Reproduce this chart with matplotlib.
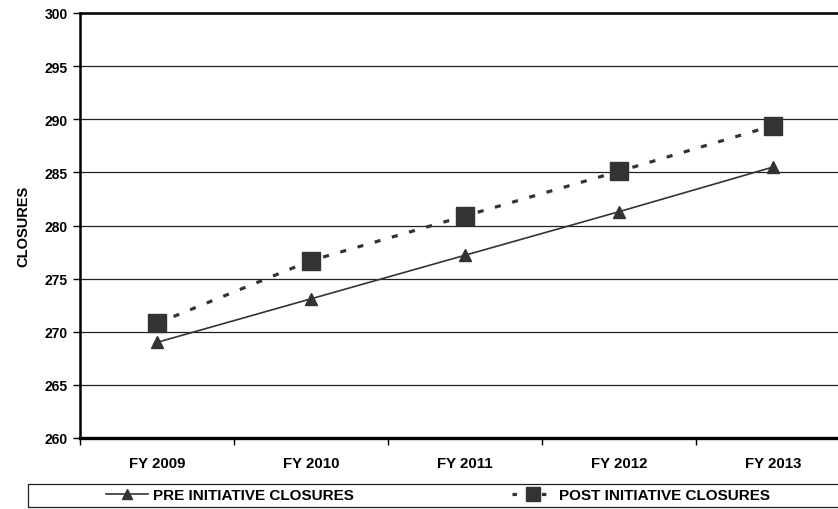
import matplotlib
matplotlib.use("Agg")
import matplotlib.pyplot as plt
from matplotlib.lines import Line2D
from matplotlib.patches import Rectangle

plt.rcParams['font.family'] = ['Liberation Sans', 'DejaVu Sans']
plt.rcParams['font.weight'] = 'bold'

years = ["FY 2009", "FY 2010", "FY 2011", "FY 2012", "FY 2013"]
pre_closures = [269.0, 273.1, 277.2, 281.3, 285.5]
post_closures = [270.8, 276.7, 280.9, 285.1, 289.4]
y_ticks = [260, 265, 270, 275, 280, 285, 290, 295, 300]

ink = "#333333"
dash = (0, (1.9, 3.7))

fig = plt.figure(figsize=(8.38, 5.10), dpi=100)
ax = fig.add_axes([80 / 838, 1 - 439 / 510, 770 / 838, 425 / 510])

x = list(range(len(years)))
ax.plot(x, pre_closures, color=ink, lw=1.2, marker="^", markersize=9,
        markeredgecolor=ink, markerfacecolor=ink, zorder=3,
        label="PRE INITIATIVE CLOSURES")
ax.plot(x, post_closures, color=ink, lw=2.3, linestyle=dash,
        marker="s", markersize=13, markeredgecolor=ink, markerfacecolor=ink,
        zorder=3, label="POST INITIATIVE CLOSURES")

ax.set_xlim(-0.5, len(years) - 0.5)
ax.set_ylim(260, 300)
ax.set_yticks(y_ticks)
ax.set_yticklabels([str(v) for v in y_ticks], fontsize=10, fontweight='bold')
ax.set_xticks([i + 0.5 for i in range(-1, len(years))], minor=False)
ax.set_xticklabels([])
ax.set_xticks(x, minor=True)
ax.set_xticklabels(years, minor=True, fontsize=10.8, fontweight='bold')
ax.tick_params(axis='x', which='minor', length=0, pad=13)
ax.tick_params(axis='x', which='major', length=5, width=1, direction='out')
ax.tick_params(axis='y', length=5, width=1, direction='out', pad=4)

ax.grid(axis='y', color='#222222', lw=0.9)
ax.set_axisbelow(True)
for side in ['top', 'left']:
    ax.spines[side].set_linewidth(1.8)
ax.spines['bottom'].set_linewidth(2.4)
ax.spines['right'].set_visible(False)

ax.set_ylabel("CLOSURES", fontsize=10.5, fontweight='bold', labelpad=10)

# legend box along the bottom
fig.patches.append(Rectangle((28 / 838, 1 - 508 / 510), 0.99, 23 / 510,
                             transform=fig.transFigure, fill=False,
                             edgecolor='#222222', lw=0.9))
handles = [
    Line2D([], [], color=ink, lw=1.2, marker="^", markersize=7,
           markerfacecolor=ink, markeredgecolor=ink),
    Line2D([], [], color=ink, lw=2.3, linestyle=(0, (1.4, 3.2)), marker="s",
           markersize=10, markerfacecolor=ink, markeredgecolor=ink),
]
fig.legend(handles, ["PRE INITIATIVE CLOSURES", "POST INITIATIVE CLOSURES"],
           loc='center', bbox_to_anchor=(438 / 838, 1 - 496.5 / 510), ncol=2,
           frameon=False, fontsize=11, handlelength=2.75, handletextpad=0.33,
           columnspacing=10.3, borderaxespad=0, borderpad=0)

fig.savefig("out.png", dpi=100)
